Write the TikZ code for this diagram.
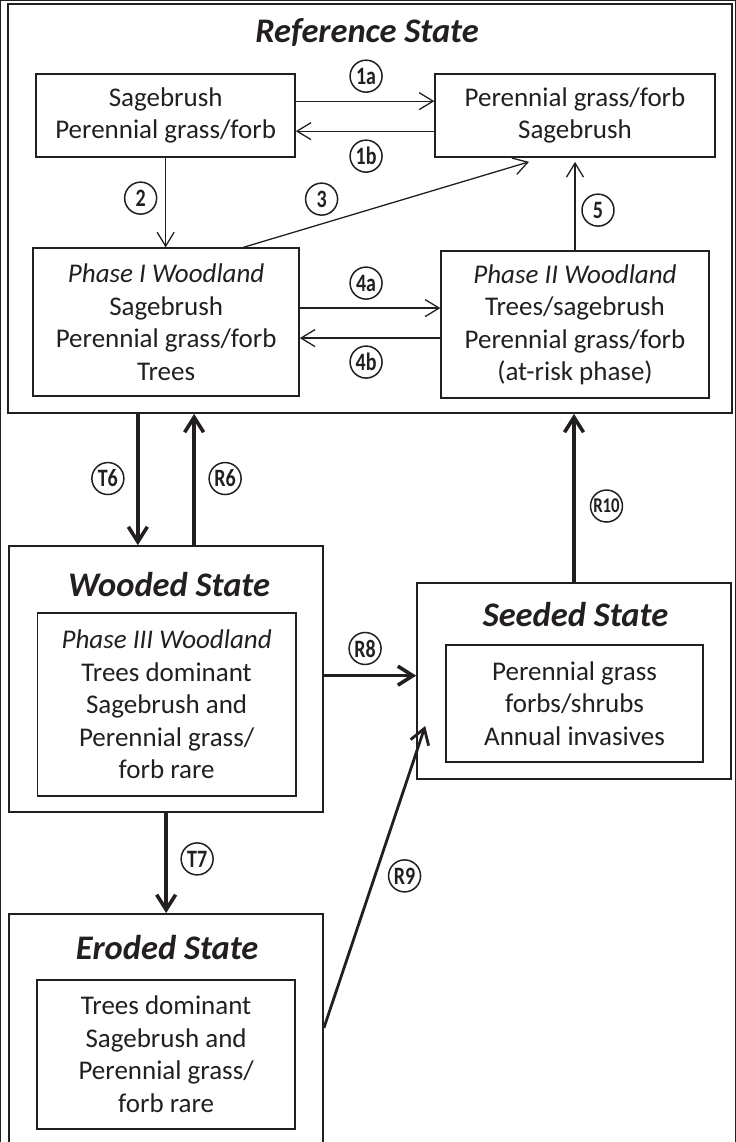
\documentclass[tikz,border=0pt]{standalone}
\usepackage{fontspec}
\setmainfont{Carlito}
\newfontfamily\narrowlabel[FakeStretch=0.8]{Carlito}
\usetikzlibrary{arrows.meta}
\newcommand\diagbody{\fontsize{27}{32.5}\selectfont}
\newcommand\diagtitle{\fontsize{34.5}{40}\selectfont\bfseries\itshape}
\newcommand\diaglabel{\narrowlabel\fontsize{25}{25}\selectfont\bfseries}
\definecolor{ink}{HTML}{231F20}
\begin{document}
\begin{tikzpicture}[x=1pt,y=-1pt,
  every path/.style={draw=ink},
  box/.style={draw=ink, line width=1.4pt, inner sep=0pt, align=center, text=ink, font=\diagbody},
  outer/.style={draw=ink, line width=1.7pt, inner sep=0pt},
  title/.style={inner sep=0pt, text=ink, font=\diagtitle},
  lab/.style={circle, draw=ink, line width=1.5pt, minimum size=32pt, inner sep=0pt, text=ink, font=\diaglabel},
  thinarrow/.style={line width=1.3pt, -{Straight Barb[length=14pt,width=17pt]}},
  thickarrow/.style={line width=3.6pt, -{Straight Barb[length=15pt,width=19pt]}}]
\useasboundingbox (0,0) rectangle (735,1142);

% ---------------- Reference state ----------------
\node[outer, minimum width=724pt, minimum height=409pt] (ref) at (370,208.5) {};
\node[title] (reft) at (367,32) {Reference State};

\node[box, minimum width=259pt, minimum height=83pt] (A) at (165.5,115.5)
  {Sagebrush\\Perennial grass/forb};
\node[box, minimum width=280pt, minimum height=83pt] (B) at (575,115.5)
  {Perennial grass/forb\\Sagebrush};
\node[box, minimum width=266pt, minimum height=148pt] (C) at (166,322)
  {\itshape Phase I Woodland\\Sagebrush\\Perennial grass/forb\\Trees};
\node[box, minimum width=268pt, minimum height=147pt] (D) at (575,324.5)
  {\itshape Phase II Woodland\\Trees/sagebrush\\Perennial grass/forb\\(at-risk phase)};

\coordinate (Bin3) at ([xshift=-46pt,yshift=-4pt]B.south);
\coordinate (Bin5) at ([yshift=-4pt]B.south);

\draw[thinarrow] ([yshift=14.5pt]A.east) -- ([yshift=14.5pt]B.west);
\draw[thinarrow] ([yshift=-15.5pt]B.west) -- ([yshift=-15.5pt]A.east);
\draw[thinarrow] (A.south) -- (A.south |- C.north);
\draw[thinarrow] ([xshift=77pt]C.north) -- (Bin3);
\draw[thinarrow] (D.north) -- (Bin5);
\draw[thinarrow] ([yshift=14pt]C.east) -- ([yshift=14pt]C.east -| D.west);
\draw[thinarrow] ([yshift=-16pt]C.east -| D.west) -- ([yshift=-16pt]C.east);

\node[lab] (l1a) at (366,76) {1a};
\node[lab] (l1b) at (366,156) {1b};
\node[lab] (l2) at (140.5,198) {2};
\node[lab] (l3) at (321.5,199) {3};
\node[lab] (l5) at (598,210) {5};
\node[lab] (l4a) at (366,283) {4a};
\node[lab] (l4b) at (366,362) {4b};

% ---------------- Wooded state ----------------
\node[outer, minimum width=314pt, minimum height=266pt] (W) at (166,679) {};
\node[title] (wt) at (169,585) {Wooded State};
\node[box, minimum width=258.5pt, minimum height=183pt] (Wi) at (166.5,704.5)
  {\itshape Phase III Woodland\\Trees dominant\\Sagebrush and\\Perennial grass/\\forb rare};

% ---------------- Seeded state ----------------
\node[outer, minimum width=314pt, minimum height=196pt] (S) at (574,681) {};
\node[title] (st) at (575.5,615) {Seeded State};
\node[box, minimum width=257pt, minimum height=117pt] (Si) at (574.5,703.5)
  {Perennial grass\\forbs/shrubs\\Annual invasives};

% ---------------- Eroded state ----------------
\node[outer, minimum width=314pt, minimum height=240pt] (E) at (166,1034) {};
\node[title] (et) at (167,948) {Eroded State};
\node[box, minimum width=258pt, minimum height=149pt] (Ei) at (166,1054.5)
  {Trees dominant\\Sagebrush and\\Perennial grass/\\forb rare};

% ---------------- Transitions between states ----------------
\coordinate (Sin9) at ([xshift=9pt,yshift=-45pt]S.west);

\draw[thickarrow] ([xshift=-28.3pt]W.north |- ref.south) -- ([xshift=-28.3pt]W.north);
\draw[thickarrow] ([xshift=28pt]W.north) -- ([xshift=28pt]W.north |- ref.south);
\draw[thickarrow] (S.north) -- (S.north |- ref.south);
\draw[thickarrow] ([yshift=3.3pt]W.east) -- ([yshift=3.3pt]W.east -| S.west);
\draw[thickarrow] (W.south) -- (E.north);
\draw[thickarrow, line width=2.8pt] ([yshift=6pt]E.east) -- (Sin9);

\node[lab] (lT6) at (107.7,478.5) {T6};
\node[lab] (lR6) at (225,478.5) {R6};
\node[lab, font=\narrowlabel\fontsize{21}{21}\selectfont\bfseries] (lR10) at (606.5,506) {R10};
\node[lab] (lR8) at (365,648.5) {R8};
\node[lab] (lT7) at (197,859) {T7};
\node[lab] (lR9) at (404.5,876) {R9};
\end{tikzpicture}
\end{document}
